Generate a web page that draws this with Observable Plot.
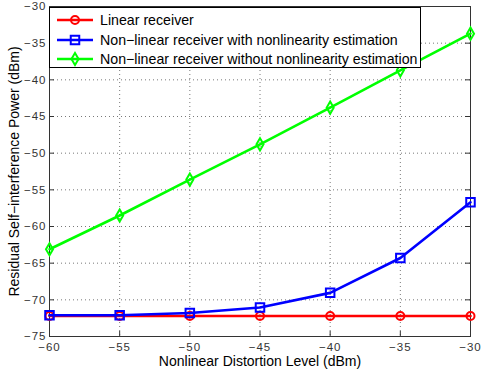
<!DOCTYPE html>
<html>
<head>
<meta charset="utf-8">
<script src="https://cdn.jsdelivr.net/npm/d3@7"></script>
<script src="https://cdn.jsdelivr.net/npm/@observablehq/plot@0.6"></script>
<style>
  html, body { margin: 0; padding: 0; background: #fff; }
  #wrap { position: relative; width: 484px; height: 372px; font-family: "Liberation Sans", Arial, sans-serif; }
  #legend { position: absolute; left: 49px; top: 7px; width: 372px; height: 61px; box-sizing: border-box;
            border: 1px solid #000; background: #fff; font-size: 14.2px; color: #000; }
  .row { position: absolute; left: 0; height: 20px; display: flex; align-items: center; white-space: nowrap; }
  .row svg { margin-left: 6px; margin-right: 6px; }
  #chart g[aria-label="x-axis tick label"] text, #chart g[aria-label="y-axis tick label"] text { letter-spacing: 1px; }
</style>
</head>
<body>
<div id="wrap"><div id="chart"></div><div id="legend"></div></div>
<script>
const xLevels = [-60, -55, -50, -45, -40, -35, -30];
const seriesNames = [
  "Linear receiver",
  "Non\u2212linear receiver with nonlinearity estimation",
  "Non\u2212linear receiver without nonlinearity estimation"
];
const linearVals = [-72.2, -72.2, -72.2, -72.2, -72.2, -72.2, -72.2];
const withEstVals = [-72.1, -72.1, -71.8, -71.05, -69.05, -64.3, -56.7];
const withoutEstVals = [-63.1, -58.5, -53.6, -48.8, -43.8, -38.7, -33.7];
const xTicks = [-60, -55, -50, -45, -40, -35, -30];
const yTicks = [-75, -70, -65, -60, -55, -50, -45, -40, -35, -30];
const colors = ["#ff0000", "#0000ff", "#00ff00"];
const symbols = ["circle", "square", "diamond"];
const radii = [4, 4.8, 3.7];

const allVals = [linearVals, withEstVals, withoutEstVals];
const data = [];
allVals.forEach((vals, s) => vals.forEach((v, i) => data.push({x: xLevels[i], y: v, s: seriesNames[s]})));

const W = 484, H = 372, mL = 49, mR = 14, mT = 6, mB = 36;
const plotH = H - mT - mB, plotW = W - mL - mR;
const fmt = d => d < 0 ? "\u2212" + Math.abs(d) : String(d);

const marks = [
  Plot.gridX(xTicks, {stroke: "#555", strokeOpacity: 1, strokeDasharray: "1,3", strokeWidth: 0.8}),
  Plot.gridY(yTicks, {stroke: "#555", strokeOpacity: 1, strokeDasharray: "1,3", strokeWidth: 0.8}),
  // inward ticks
  Plot.ruleX(xTicks, {x: d => d, insetTop: plotH - 5, stroke: "#333"}),
  Plot.ruleX(xTicks, {x: d => d, insetBottom: plotH - 5, stroke: "#333"}),
  Plot.ruleY(yTicks, {y: d => d, insetRight: plotW - 5, stroke: "#333"}),
  Plot.ruleY(yTicks, {y: d => d, insetLeft: plotW - 5, stroke: "#333"}),
  Plot.axisX(xTicks, {tickSize: 0, tickPadding: 6, tickFormat: fmt, fontSize: 11.5, fill: "#333", label: null}),
  Plot.axisY(yTicks, {tickSize: 0, tickPadding: 3, tickFormat: fmt, fontSize: 11.5, fill: "#333", label: null}),
  Plot.frame({stroke: "#333"})
];
seriesNames.forEach((name, s) => {
  const d = data.filter(e => e.s === name);
  marks.push(Plot.line(d, {x: "x", y: "y", stroke: colors[s], strokeWidth: 2.6}));
  marks.push(Plot.dot(d, {x: "x", y: "y", stroke: colors[s], strokeWidth: 2, symbol: () => symbols[s], r: radii[s], fill: "none"}));
});
marks.push(Plot.text(["Nonlinear Distortion Level (dBm)"], {frameAnchor: "bottom", dy: 29, fontSize: 14, fill: "#000", text: d => d}));
marks.push(Plot.text(["Residual Self\u2212interference Power (dBm)"], {frameAnchor: "left", textAnchor: "middle", dx: -35, rotate: -90, fontSize: 14, fill: "#000", text: d => d}));

const chart = Plot.plot({
  width: W, height: H,
  marginLeft: mL, marginRight: mR, marginTop: mT, marginBottom: mB,
  style: {fontFamily: "'Liberation Sans', Arial, sans-serif", background: "#fff", overflow: "visible"},
  x: {domain: [-60, -30]},
  y: {domain: [-75, -30]},
  marks
});
document.getElementById("chart").appendChild(chart);

// legend
const legend = document.getElementById("legend");
seriesNames.forEach((name, s) => {
  const row = document.createElement("div");
  row.className = "row";
  row.style.top = (2 + s * 19.5) + "px";
  const ns = "http://www.w3.org/2000/svg";
  const svg = document.createElementNS(ns, "svg");
  svg.setAttribute("width", 38); svg.setAttribute("height", 20);
  const ln = document.createElementNS(ns, "line");
  ln.setAttribute("x1", 1); ln.setAttribute("x2", 37); ln.setAttribute("y1", 10); ln.setAttribute("y2", 10);
  ln.setAttribute("stroke", colors[s]); ln.setAttribute("stroke-width", 2.6);
  svg.appendChild(ln);
  const p = document.createElementNS(ns, "path");
  const sym = d3.symbol(s === 0 ? d3.symbolCircle : s === 1 ? d3.symbolSquare : d3.symbolDiamond, Math.PI * radii[s] * radii[s]);
  p.setAttribute("d", sym());
  p.setAttribute("transform", "translate(19,10)");
  p.setAttribute("fill", "none"); p.setAttribute("stroke", colors[s]); p.setAttribute("stroke-width", 2);
  svg.appendChild(p);
  row.appendChild(svg);
  const t = document.createElement("span");
  t.textContent = name;
  row.appendChild(t);
  legend.appendChild(row);
});
</script>
</body>
</html>
